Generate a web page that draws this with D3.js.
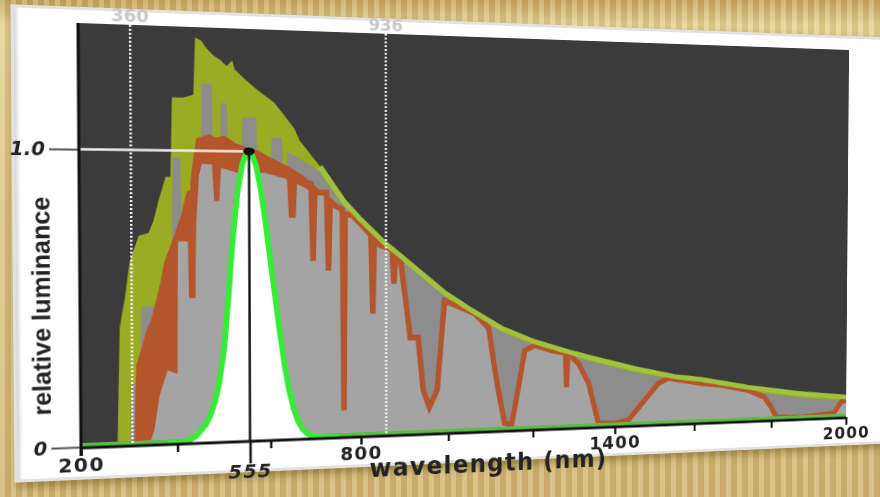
<!DOCTYPE html>
<html><head><meta charset="utf-8">
<script src="https://cdn.jsdelivr.net/npm/d3@7"></script>
<style>
html,body{margin:0;padding:0;width:880px;height:497px;overflow:hidden;}
body{background:
  repeating-linear-gradient(90deg, rgba(255,248,215,0.20) 0 5px, rgba(110,80,20,0.10) 5px 11px),
  linear-gradient(180deg, #c6a55c 0%, #e4d296 5%, #d8bf80 50%, #d2b674 100%);}
#stage{position:absolute;left:0;top:0;transform-origin:0 0 0;overflow:visible;}
</style></head><body>
<svg id="stage" width="1100" height="560"></svg>
<script>
// ---------- data ----------
// extraterrestrial spectrum (olive)
const etWl  = [275,281,292,302,321,342,352,363,378,388,392,415,437,441,454,465,480,495,508,519,525,545,567,588,610,632,654,665,710,762,800,852,891,990,1053,1125,1204,1286,1350,1449,1550,1618,1739,1868,2000];
const etVal = [0,0.40,0.50,0.62,0.71,0.72,0.76,0.83,0.91,0.91,1.18,1.18,1.19,1.385,1.375,1.35,1.325,1.31,1.29,1.31,1.28,1.25,1.22,1.195,1.17,1.125,1.08,1.04,0.95,0.83,0.765,0.685,0.635,0.505,0.44,0.372,0.32,0.28,0.252,0.212,0.177,0.163,0.128,0.099,0.078];
// black-body envelope (medium grey, shows as strips inside the olive)
const bbWl  = [302,306,322,326,360,368,390,393,409,411,452,454,476,478,493,495,508,510,539,541,571,573,602,604,626,628,636,638,662,688,710,762,800,852,891,990,1053,1125,1204,1286,1350,1449,1550,1618,1739,1868,2000];
const bbVal = [0,0.21,0.21,0.47,0.47,0.45,0.60,0.975,0.975,0.75,0.75,1.229,1.229,0.95,0.95,1.163,1.163,0.95,0.95,1.116,1.116,0.95,0.95,1.048,1.048,0.95,0.95,1.0,0.98,0.955,0.928,0.813,0.752,0.672,0.62,0.493,0.427,0.36,0.307,0.267,0.239,0.198,0.164,0.149,0.113,0.084,0.062];
// sea-level spectrum (brown outline, light grey fill)
const seaWl  = [316,321,331,342,352,363,373,380,394,405,416,426,430,433,436,439,448,469,486,501,523,555,571,593,615,637,665,681,690,694,698,706,724,728,732,744,759,762,765,782,804,823,827,831,845,871,875,879,891,912,930,942,956,974,991,1030,1061,1094,1113,1132,1149,1168,1180,1204,1245,1269,1278,1281,1284,1293,1310,1335,1359,1400,1434,1454,1474,1509,1534,1618,1669,1739,1781,1799,1813,1880,1967,1986,2000];
const seaVal = [0,0.27,0.32,0.387,0.42,0.49,0.556,0.617,0.675,0.726,0.777,0.846,0.86,0.497,0.89,0.931,1.034,1.045,1.035,1.042,1.019,1.0,0.996,0.975,0.958,0.941,0.914,0.893,0.89,0.621,0.87,0.859,0.86,0.586,0.83,0.813,0.80,0.093,0.785,0.779,0.743,0.71,0.433,0.70,0.673,0.66,0.538,0.63,0.612,0.345,0.345,0.155,0.094,0.154,0.475,0.449,0.427,0.375,0.183,0.027,0.019,0.181,0.289,0.307,0.287,0.279,0.278,0.150,0.27,0.263,0.237,0.162,0.014,0.01,0.021,0.057,0.093,0.155,0.172,0.149,0.140,0.117,0.089,0.050,0.01,0.005,0.018,0.059,0.066];
// lower edge of the broad brown band in the visible range
const seaLowWl  = [342,352,363,380,401,403,424,426,439,441,448,454,476,480,491,495,529,588,637,641,656,659,681,690];
const seaLowVal = [0,0.05,0.166,0.25,0.238,0.692,0.69,0.497,0.497,0.726,0.914,0.955,0.954,0.829,0.829,0.943,0.926,0.927,0.906,0.771,0.771,0.889,0.872,0.86];
// photopic luminosity function V(lambda) (green)
const vWl  = [380,400,420,440,460,470,480,490,500,510,520,530,540,550,555,560,570,580,590,600,610,620,630,640,650,660,670,680,690,700,720,750];
const vVal = [0.00004,0.0004,0.004,0.023,0.06,0.091,0.139,0.208,0.323,0.503,0.71,0.862,0.954,0.995,1.0,0.995,0.952,0.87,0.757,0.631,0.503,0.381,0.265,0.175,0.107,0.061,0.032,0.017,0.0082,0.0041,0.00105,0.00012];
// axes
const xTickValues = [200,400,555,600,800,1000,1200,1400,1600,1800,2000];
const xTickLabels = [200,555,800,1400,2000];
const yTickValues = [0,1.0];
const yTickLabels = ["0","1.0"];
const markerLabels = ["360","936"];
const markerWl = [306,857];
const peakWl = 555, peakVal = 1.0;

// ---------- flat chart geometry ----------
const W0=100, W1=970, H0=40, H1=464;
const x = d3.scaleLinear().domain([200,2000]).range([W0,W1]);
const y = d3.scaleLinear().domain([0,1.42]).range([H1,H0]);
const zip = (a,b)=>a.map((v,i)=>[v,b[i]]);
const et = zip(etWl,etVal), bb = zip(bbWl,bbVal), sea = zip(seaWl,seaVal), seaLow = zip(seaLowWl,seaLowVal), vl = zip(vWl,vVal);
const bandEnd = seaLowWl[seaLowWl.length-1];
const band = sea.filter(d=>d[0]<=bandEnd).concat(seaLow.slice().reverse());

const svg = d3.select("#stage");
const defs = svg.append("defs");
const sh = defs.append("filter").attr("id","shadow").attr("x","-10%").attr("y","-10%").attr("width","130%").attr("height","130%");
sh.append("feDropShadow").attr("dx",3).attr("dy",5).attr("stdDeviation",5).attr("flood-color","#5a4410").attr("flood-opacity",0.45);
defs.append("clipPath").attr("id","clip").append("rect").attr("x",W0).attr("y",H0).attr("width",W1-W0).attr("height",H1-H0);
const lg = defs.append("linearGradient").attr("id","bevel").attr("x1","0").attr("x2","1");
lg.append("stop").attr("offset","0").attr("stop-color","#bdbdbd");
lg.append("stop").attr("offset","0.008").attr("stop-color","#ffffff");
lg.append("stop").attr("offset","1").attr("stop-color","#ffffff");

// card
svg.append("rect").attr("x",35).attr("y",24).attr("width",1030).attr("height",473)
  .attr("fill","url(#bevel)").attr("filter","url(#shadow)");
svg.append("rect").attr("x",36.5).attr("y",25.5).attr("width",1027).attr("height",470)
  .attr("fill","none").attr("stroke","#e2e2e2").attr("stroke-width",3);

// plot background
svg.append("rect").attr("x",W0).attr("y",H0).attr("width",W1-W0).attr("height",H1-H0).attr("fill","#3b3b3b");

const plot = svg.append("g").attr("clip-path","url(#clip)");
const area = d3.area().x(d=>x(d[0])).y0(y(0)).y1(d=>y(d[1]));
const line = d3.line().x(d=>x(d[0])).y(d=>y(d[1]));

plot.append("path").datum(et).attr("d",area).attr("fill","#9aab24");
plot.append("path").datum(bb).attr("d",area).attr("fill","#8d8d8d");
plot.append("path").datum(sea).attr("d",area).attr("fill","#a4a4a4");
plot.append("path").datum(band).attr("d",d=>line(d)+"Z").attr("fill","#b4552c");
plot.append("path").datum(sea).attr("d",line).attr("fill","none").attr("stroke","#b4552c").attr("stroke-width",6).attr("stroke-linejoin","miter");
plot.append("path").datum(et.filter(d=>d[0]>=700)).attr("d",line).attr("fill","none").attr("stroke","#a0c23c").attr("stroke-width",5.5);
// baseline green
plot.append("line").attr("x1",W0).attr("x2",W1).attr("y1",H1-2).attr("y2",H1-2).attr("stroke","#5cbc46").attr("stroke-width",4);
// luminosity curve
plot.append("path").datum(vl).attr("d",area).attr("fill","#ffffff");
plot.append("path").datum(vl).attr("d",line).attr("fill","none").attr("stroke","#36ec36").attr("stroke-width",6);

// marker dashed lines
markerWl.forEach((m,i)=>{
  svg.append("line").attr("x1",x(m)).attr("x2",x(m)).attr("y1",H0).attr("y2",H1)
    .attr("stroke","#f4f4f4").attr("stroke-width",2.5).attr("stroke-dasharray","2,2");
  svg.append("text").attr("x",x(m)).attr("y",H0-3).attr("text-anchor","middle")
    .attr("font-family","DejaVu Sans").attr("font-weight","bold").attr("font-size",18)
    .attr("fill","#c8c8c8").text(markerLabels[i]);
});

// 1.0 reference line, peak line and dot
svg.append("line").attr("x1",W0).attr("x2",x(peakWl)).attr("y1",y(peakVal)).attr("y2",y(peakVal)).attr("stroke","#eeeeee").attr("stroke-width",2.5);
svg.append("line").attr("x1",x(peakWl)).attr("x2",x(peakWl)).attr("y1",y(0)).attr("y2",y(peakVal)).attr("stroke","#111").attr("stroke-width",2.5);
svg.append("ellipse").attr("cx",x(peakWl)).attr("cy",y(peakVal)).attr("rx",6).attr("ry",4).attr("fill","#111");

// x axis
const xa = svg.append("g").attr("transform",`translate(0,${H1})`)
  .call(d3.axisBottom(x).tickValues(xTickValues).tickSize(9).tickSizeOuter(0).tickPadding(6)
        .tickFormat(d=>xTickLabels.includes(d)?String(d):""));
xa.select(".domain").remove();
xa.selectAll(".tick line").attr("stroke","#111").attr("stroke-width",2.5);
xa.selectAll(".tick text").attr("font-family","DejaVu Sans").attr("font-weight","bold")
  .attr("font-size",20).attr("letter-spacing",1.5).attr("fill","#222").attr("dy","0.5em");
xa.selectAll(".tick").filter(d=>d===555).select("line").attr("y2",24);
xa.selectAll(".tick").filter(d=>d===555).select("text").attr("y",29).attr("font-style","italic");
svg.append("line").attr("x1",W0).attr("x2",W1).attr("y1",H1+1).attr("y2",H1+1).attr("stroke","#111").attr("stroke-width",3);

// y axis
const ya = svg.append("g").attr("transform",`translate(${W0},0)`)
  .call(d3.axisLeft(y).tickValues(yTickValues).tickSize(29).tickSizeOuter(0).tickPadding(4)
        .tickFormat((d,i)=>yTickLabels[i]));
ya.select(".domain").remove();
ya.selectAll(".tick line").attr("stroke","#555").attr("stroke-width",2);
ya.selectAll(".tick text").attr("font-family","DejaVu Sans").attr("font-weight","bold").attr("font-style","italic")
  .attr("font-size",19).attr("fill","#222");
svg.append("line").attr("x1",W0).attr("x2",W0).attr("y1",H0).attr("y2",H1+9).attr("stroke","#111").attr("stroke-width",3);

// axis titles
svg.append("text").attr("x",x(1100)).attr("y",H1+44).attr("text-anchor","middle")
  .attr("font-family","DejaVu Sans").attr("font-weight","bold").attr("font-size",26).attr("letter-spacing",1.5)
  .attr("fill","#222").text("wavelength (nm)");
svg.append("text").attr("transform",`translate(62,${(H0+H1)/2+70}) rotate(-90)`).attr("text-anchor","middle").attr("dy","0.35em")
  .attr("font-family","Liberation Sans Narrow, Liberation Sans").attr("font-weight","bold").attr("font-size",25)
  .attr("fill","#222").text("relative luminance");

// ---------- perspective of the photographed slide ----------
function solve(A,b){const n=b.length;
  for(let i=0;i<n;i++){let p=i;for(let r=i+1;r<n;r++)if(Math.abs(A[r][i])>Math.abs(A[p][i]))p=r;
    [A[i],A[p]]=[A[p],A[i]];[b[i],b[p]]=[b[p],b[i]];
    for(let r=i+1;r<n;r++){const f=A[r][i]/A[i][i];for(let c=i;c<n;c++)A[r][c]-=f*A[i][c];b[r]-=f*b[i];}}
  const s=new Array(n);for(let i=n-1;i>=0;i--){let t=b[i];for(let c=i+1;c<n;c++)t-=A[i][c]*s[c];s[i]=t/A[i][i];}return s;}
const src=[[W0,H0],[W1,H0],[W1,H1],[W0,H1]];
const dst=[[78,23],[849,50],[846,417],[81,447]];
const A=[],b=[];
src.forEach(([sx,sy],i)=>{const [u,v]=dst[i];
  A.push([sx,sy,1,0,0,0,-u*sx,-u*sy]);b.push(u);
  A.push([0,0,0,sx,sy,1,-v*sx,-v*sy]);b.push(v);});
const h=solve(A,b);
document.getElementById("stage").style.transform=
  `matrix3d(${h[0]},${h[3]},0,${h[6]},${h[1]},${h[4]},0,${h[7]},0,0,1,0,${h[2]},${h[5]},0,1)`;
</script></body></html>
